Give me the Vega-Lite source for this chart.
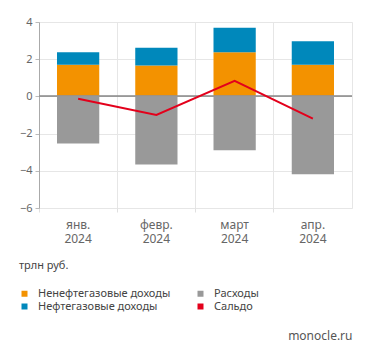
{
  "$schema": "https://vega.github.io/schema/vega-lite/v6.json",
  "width": 313,
  "height": 186,
  "autosize": {"type": "none"},
  "padding": {"left": 39, "top": 22, "right": 19, "bottom": 148},
  "config": {
    "view": {"stroke": "#e6e6e6"},
    "font": "Noto Sans",
    "axis": {"labelColor": "#666", "labelFont": "Noto Sans", "titleFont": "Noto Sans"},
    "legend": {"labelFont": "Noto Sans", "titleFont": "Noto Sans"}
  },
  "title": {
    "text": "monocle.ru",
    "orient": "bottom",
    "anchor": "end",
    "offset": 19,
    "fontSize": 12,
    "fontWeight": "normal",
    "color": "#555"
  },
  "data": {
    "values": [
      {"month": "янв. 2024", "series": "Ненефтегазовые доходы", "value": 1.70},
      {"month": "янв. 2024", "series": "Нефтегазовые доходы", "value": 0.68},
      {"month": "янв. 2024", "series": "Расходы", "value": -2.53},
      {"month": "янв. 2024", "series": "Сальдо", "value": -0.13},
      {"month": "февр. 2024", "series": "Ненефтегазовые доходы", "value": 1.66},
      {"month": "февр. 2024", "series": "Нефтегазовые доходы", "value": 0.95},
      {"month": "февр. 2024", "series": "Расходы", "value": -3.66},
      {"month": "февр. 2024", "series": "Сальдо", "value": -1.0},
      {"month": "март 2024", "series": "Ненефтегазовые доходы", "value": 2.38},
      {"month": "март 2024", "series": "Нефтегазовые доходы", "value": 1.31},
      {"month": "март 2024", "series": "Расходы", "value": -2.89},
      {"month": "март 2024", "series": "Сальдо", "value": 0.84},
      {"month": "апр. 2024", "series": "Ненефтегазовые доходы", "value": 1.70},
      {"month": "апр. 2024", "series": "Нефтегазовые доходы", "value": 1.26},
      {"month": "апр. 2024", "series": "Расходы", "value": -4.18},
      {"month": "апр. 2024", "series": "Сальдо", "value": -1.2}
    ]
  },
  "encoding": {
    "x": {
      "field": "month",
      "type": "nominal",
      "sort": ["янв. 2024", "февр. 2024", "март 2024", "апр. 2024"],
      "scale": {"paddingInner": 0, "paddingOuter": 0},
      "axis": {
        "title": null,
        "labelAngle": 0,
        "labelExpr": "split(datum.label, ' ')",
        "labelFontSize": 12,
        "labelLineHeight": 14,
        "labelPadding": 7,
        "bandPosition": 0,
        "grid": true,
        "gridColor": "#e6e6e6",
        "tickColor": "#e0e0e0",
        "tickSize": 4,
        "domain": false
      }
    },
    "y": {
      "field": "value",
      "type": "quantitative",
      "stack": "zero",
      "scale": {"domain": [-6, 4], "nice": false},
      "axis": {
        "title": null,
        "tickCount": 5,
        "labelOverlap": false,
        "labelFlush": false,
        "labelFontSize": 11,
        "labelPadding": 3,
        "tickSize": 4,
        "tickColor": "#bbb",
        "domainColor": "#aaa",
        "gridColor": "#e6e6e6"
      }
    },
    "color": {
      "field": "series",
      "type": "nominal",
      "scale": {
        "domain": ["Ненефтегазовые доходы", "Нефтегазовые доходы", "Расходы", "Сальдо"],
        "range": ["#f39200", "#0088bb", "#999999", "#e3001b"]
      },
      "legend": {
        "title": "трлн руб.",
        "titleFontSize": 11,
        "titleFontWeight": "normal",
        "titleColor": "#444",
        "titlePadding": 17,
        "orient": "none",
        "legendX": -20,
        "legendY": 238,
        "columns": 2,
        "columnPadding": 24,
        "rowPadding": 1,
        "symbolType": "square",
        "symbolSize": 36,
        "symbolStrokeWidth": 0,
        "labelFontSize": 11,
        "labelColor": "#444",
        "labelOffset": 8
      }
    }
  },
  "layer": [
    {
      "transform": [{"filter": "datum.series !== 'Сальдо'"}],
      "mark": {"type": "bar", "width": {"band": 0.54}},
      "encoding": {
        "order": {"field": "series", "sort": "ascending"}
      }
    },
    {
      "mark": {"type": "rule", "color": "#999", "strokeWidth": 1},
      "encoding": {"y": {"datum": 0}, "x": null, "color": null}
    },
    {
      "transform": [{"filter": "datum.series === 'Сальдо'"}],
      "mark": {"type": "line", "strokeWidth": 2},
      "encoding": {}
    }
  ]
}
